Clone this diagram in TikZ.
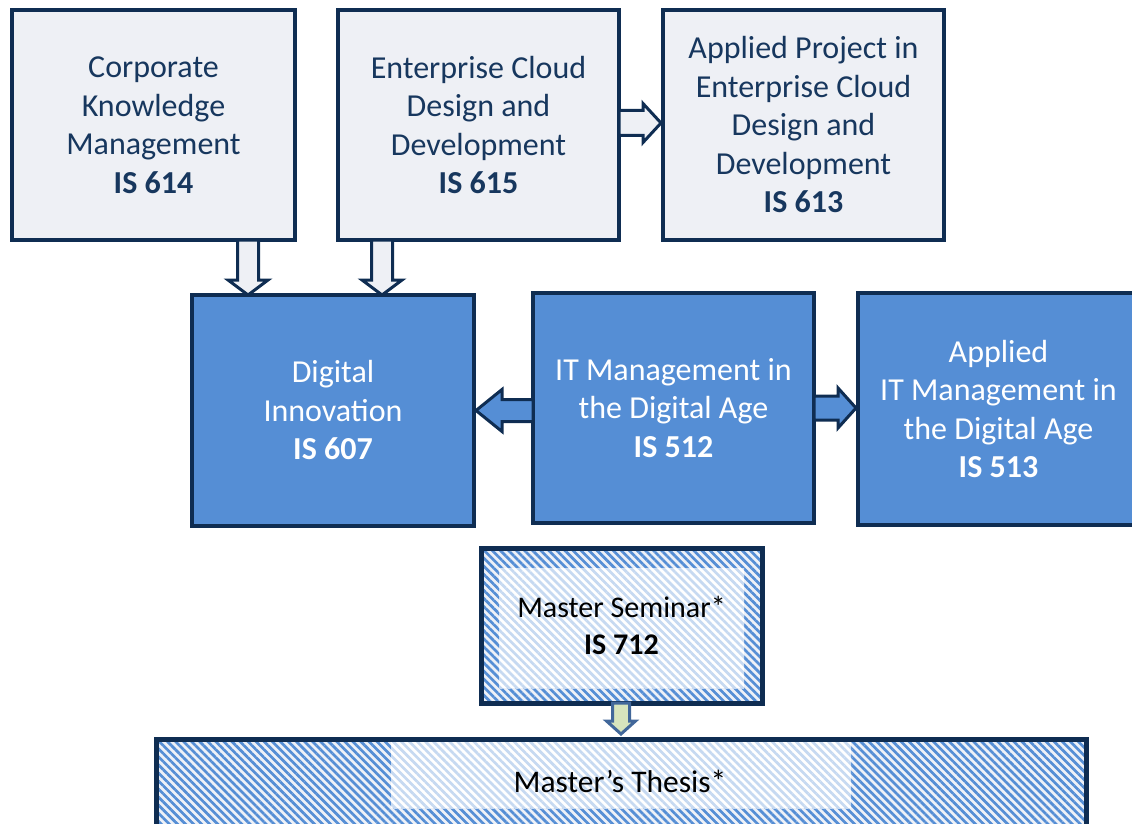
\documentclass[tikz,border=0pt]{standalone}
\usepackage{fontspec}
\setmainfont{Carlito}
\usetikzlibrary{calc,patterns.meta}
\definecolor{navy}{HTML}{0F2D52}
\definecolor{txtnavy}{HTML}{17375E}
\definecolor{lightfill}{HTML}{EEF0F5}
\definecolor{bluefill}{HTML}{558ED5}
\definecolor{hatchbg}{HTML}{EEF1F7}
\definecolor{hatchlight}{HTML}{C6D9F1}
\definecolor{arrowedge}{HTML}{41679A}
\definecolor{arrowfill}{HTML}{D7E4BD}
\tikzset{
  box/.style={draw=navy, line width=4pt, inner sep=0pt, outer sep=0pt, align=center,
    font=\fontsize{32}{38.5}\selectfont},
  topbox/.style={box, fill=lightfill, text=txtnavy},
  midbox/.style={box, fill=bluefill, text=white},
  hatchbox/.style={draw=navy, line width=5pt, inner sep=0pt, outer sep=0pt, align=center,
    preaction={fill=hatchbg},
    pattern={Lines[angle=-45,distance=5.7pt,line width=2.7pt]}, pattern color=bluefill,
    text=black, font=\fontsize{30}{37}\selectfont},
  innerhatch/.style={pattern={Lines[angle=-45,distance=5.7pt,line width=2.7pt]}, pattern color=hatchlight},
  blockarrow/.style n args={3}{to path={
    ($(\tikztostart)!#1!90:(\tikztotarget)$) --
    ($(\tikztotarget)!#3!(\tikztostart)!#1!-90:(\tikztostart)$) --
    ($(\tikztotarget)!#3!(\tikztostart)!#2!-90:(\tikztostart)$) --
    (\tikztotarget) --
    ($(\tikztotarget)!#3!(\tikztostart)!#2!90:(\tikztostart)$) --
    ($(\tikztotarget)!#3!(\tikztostart)!#1!90:(\tikztostart)$) --
    ($(\tikztostart)!#1!-90:(\tikztotarget)$) -- cycle}},
  toparrow/.style={draw=navy, fill=lightfill, line width=3pt},
  midarrow/.style={draw=navy, fill=bluefill, line width=3pt},
  lowarrow/.style={draw=arrowedge, fill=arrowfill, line width=3pt},
}
\begin{document}
\begin{tikzpicture}[x=1pt,y=-1pt]
\useasboundingbox (0,0) rectangle (1132,824);
% top row
\node[topbox, minimum width=283, minimum height=230] (k614) at (153.5,125)
  {Corporate\\Knowledge\\Management\\\textbf{IS 614}};
\node[topbox, minimum width=281, minimum height=230] (k615) at (478.5,125)
  {Enterprise Cloud\\Design and\\Development\\\textbf{IS 615}};
\node[topbox, minimum width=281, minimum height=230] (k613) at (803.5,125)
  {Applied Project in\\Enterprise Cloud\\Design and\\Development\\\textbf{IS 613}};
% middle row
\node[midbox, minimum width=282, minimum height=231] (k607) at (333,410.5)
  {Digital\\Innovation\\\textbf{IS 607}};
\node[midbox, minimum width=281, minimum height=230] (k512) at (673.5,408)
  {IT Management in\\the Digital Age\\\textbf{IS 512}};
\node[midbox, minimum width=281, minimum height=232] (k513) at (998.5,409)
  {Applied\\IT Management in\\the Digital Age\\\textbf{IS 513}};
% seminar
\node[hatchbox, minimum width=281, minimum height=155,
  path picture={
    \fill[white] ($(path picture bounding box.north west)+(18,20)$) rectangle ($(path picture bounding box.south east)+(-18,-15)$);
    \fill[innerhatch] ($(path picture bounding box.north west)+(18,20)$) rectangle ($(path picture bounding box.south east)+(-18,-15)$);
  }] (k712) at (621.5,625.5) {Master Seminar*\\\textbf{IS 712}};
% thesis
\node[hatchbox, minimum width=930, minimum height=112,
  path picture={
    \fill[white] ($(path picture bounding box.north west)+(235,0)$) rectangle ($(path picture bounding box.north west)+(695,69)$);
    \fill[innerhatch] ($(path picture bounding box.north west)+(235,0)$) rectangle ($(path picture bounding box.north west)+(695,69)$);
  }] (thesis) at (621,795) {};
\node[font=\fontsize{31.5}{37}\selectfont, text=black, inner sep=0pt] (thesistext) at (620,781) {Master’s Thesis*};
% arrow end points
\coordinate (a1s) at (248,240);
\coordinate (a1e) at (a1s |- k607.north);
\coordinate (a2s) at (382,240);
\coordinate (a2e) at (a2s |- k607.north);
\coordinate (a3s) at (619,123);
\coordinate (a3e) at (661,123);
\coordinate (a4s) at (533,410.5);
\coordinate (a4e) at (476,410.5);
\coordinate (a5s) at (814,408);
\coordinate (a5e) at (856,408);
\coordinate (a6s) at (621,703);
\coordinate (a6e) at (621,734);
% arrows
\draw[toparrow, blockarrow={10.5pt}{20pt}{15pt}] (a1s) to (a1e);
\draw[toparrow, blockarrow={10.5pt}{20pt}{15pt}] (a2s) to (a2e);
\draw[toparrow, blockarrow={12.5pt}{19.5pt}{18pt}] (a3s) to (a3e);
\draw[midarrow, blockarrow={11pt}{21pt}{26pt}] (a4s) to (a4e);
\draw[midarrow, blockarrow={12pt}{20pt}{18pt}] (a5s) to (a5e);
\draw[lowarrow, blockarrow={8.5pt}{14.5pt}{13pt}] (a6s) to (a6e);
\end{tikzpicture}
\end{document}
